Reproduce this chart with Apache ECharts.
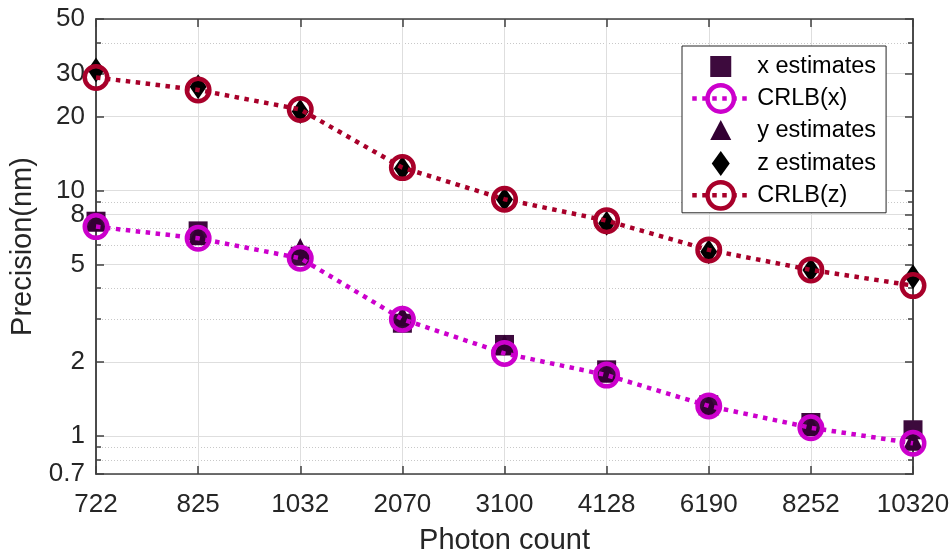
<!DOCTYPE html>
<html>
<head>
<meta charset="utf-8">
<script src="https://cdn.jsdelivr.net/npm/echarts@6/dist/echarts.min.js"></script>
<style>html,body{margin:0;padding:0;background:#fff;}#c{width:951px;height:554px;}</style>
</head>
<body>
<div id="c"></div>
<script>
const categories = ['722', '825', '1032', '2070', '3100', '4128', '6190', '8252', '10320'];
const xEstimates = [7.5, 6.85, 5.4, 2.88, 2.36, 1.86, 1.34, 1.135, 1.06];
const crlbX = [7.13, 6.39, 5.3, 2.99, 2.17, 1.77, 1.325, 1.08, 0.934];
const yEstimates = [7.5, 6.6, 5.8, 3.09, 2.35, 1.82, 1.34, 1.1, 0.96];
const zEstimates = [31, 26.5, 21, 12.3, 9.2, 7.35, 5.63, 4.75, 4.45];
const crlbZ = [28.9, 25.7, 21.4, 12.4, 9.22, 7.54, 5.73, 4.75, 4.1];
const yMajorTicks = [0.7, 1, 2, 5, 8, 10, 20, 30, 50];
const yMinorTicks = [0.8, 0.9, 3, 4, 6, 7, 9, 40];

const FONT = 'Liberation Sans';
const AX = '#404040';
const MAG = '#cc00cc';
const RED = '#a8002a';
const SQ = '#3d0a3d';
const TRI = '#330033';

const chart = echarts.init(document.getElementById('c'), null, {renderer: 'canvas'});
const fmt = v => String(+(+v).toPrecision(3));

const yBase = {
  type: 'log', logBase: 10, min: 0.7, max: 50,
  axisLine: {show: true, lineStyle: {color: AX, width: 1.5}}
};

chart.setOption({
  animation: false,
  backgroundColor: '#fff',
  grid: {left: 96, right: 38, top: 19, bottom: 80, containLabel: false, outerBoundsMode: 'none'},
  xAxis: [{
    type: 'category', data: categories, boundaryGap: false, position: 'bottom',
    axisLine: {show: true, lineStyle: {color: AX, width: 1.5}},
    axisTick: {show: true, inside: true, length: 8, lineStyle: {color: AX, width: 1.5}},
    axisLabel: {fontSize: 26, color: '#262626', fontFamily: FONT, margin: 18},
    splitLine: {show: true, lineStyle: {color: '#dedede', width: 1}},
    name: 'Photon count', nameLocation: 'middle', nameGap: 52,
    nameTextStyle: {fontSize: 29, color: '#262626', fontFamily: FONT}
  }, {
    type: 'category', data: categories, boundaryGap: false, position: 'top',
    axisLine: {show: true, lineStyle: {color: AX, width: 1.5}},
    axisTick: {show: true, inside: true, length: 8, lineStyle: {color: AX, width: 1.5}},
    axisLabel: {show: false}, splitLine: {show: false}
  }],
  yAxis: [Object.assign({}, yBase, {
    position: 'left',
    axisTick: {show: true, inside: true, length: 8, customValues: yMajorTicks, lineStyle: {color: AX, width: 1.5}},
    axisLabel: {show: true, customValues: yMajorTicks, formatter: fmt, fontSize: 26, color: '#262626', fontFamily: FONT, margin: 11},
    splitLine: {show: true, lineStyle: {color: '#dedede', width: 1}},
    name: 'Precision(nm)', nameLocation: 'middle', nameGap: 49, nameRotate: 90,
    nameTextStyle: {fontSize: 29, color: '#262626', fontFamily: FONT}
  }), Object.assign({}, yBase, {
    position: 'left',
    axisTick: {show: true, inside: true, length: 5, customValues: yMinorTicks, lineStyle: {color: AX, width: 1.5}},
    axisLabel: {show: false, customValues: yMinorTicks},
    splitLine: {show: true, lineStyle: {color: '#c8c8c8', width: 1, type: [1, 2]}}
  }), Object.assign({}, yBase, {
    position: 'right',
    axisTick: {show: true, inside: true, length: 8, customValues: yMajorTicks, lineStyle: {color: AX, width: 1.5}},
    axisLabel: {show: false, customValues: yMajorTicks},
    splitLine: {show: false}
  }), Object.assign({}, yBase, {
    position: 'right',
    axisTick: {show: true, inside: true, length: 5, customValues: yMinorTicks, lineStyle: {color: AX, width: 1.5}},
    axisLabel: {show: false, customValues: yMinorTicks},
    splitLine: {show: false}
  })],
  legend: {
    orient: 'vertical', left: 682, top: 46,
    padding: [4, 10, 2, 8],
    itemWidth: 57, itemHeight: 33, itemGap: 0,
    borderColor: '#262626', borderWidth: 1, backgroundColor: '#fff',
    selectedMode: false,
    textStyle: {fontSize: 23.5, color: '#000', fontFamily: FONT, padding: [0, 0, 0, 3]},
    data: [
      {name: 'x estimates', icon: 'path://M0,0M33,33M6,6H27V27H6Z', itemStyle: {opacity: 1}},
      {name: 'CRLB(x)', itemStyle: {borderWidth: 4.5, borderColor: MAG, color: 'rgba(255,255,255,0)'}, lineStyle: {width: 4.5, color: MAG, type: [4.5, 5.5]}},
      {name: 'y estimates', icon: 'path://M0,0M33,33M16.5,6L27,26H6Z', itemStyle: {opacity: 1}},
      {name: 'z estimates', icon: 'path://M0,0M33,33M16.5,4L25.5,16.5L16.5,29L7.5,16.5Z', itemStyle: {opacity: 1}},
      {name: 'CRLB(z)', itemStyle: {borderWidth: 4.5, borderColor: RED, color: 'rgba(255,255,255,0)'}, lineStyle: {width: 4.5, color: RED, type: [4.5, 5.5]}}
    ]
  },
  series: [{
    name: 'x estimates', type: 'scatter', data: xEstimates,
    symbol: 'rect', symbolSize: 19, itemStyle: {color: SQ, opacity: 1}
  }, {
    name: 'CRLB(x)', type: 'line', data: crlbX,
    symbol: 'circle', symbolSize: 22.5, showSymbol: true,
    itemStyle: {color: 'rgba(255,255,255,0)', borderColor: MAG, borderWidth: 4.5},
    lineStyle: {color: MAG, width: 4.5, type: [4.5, 5.5]}
  }, {
    name: 'y estimates', type: 'scatter', data: yEstimates,
    symbol: 'triangle', symbolSize: 21, itemStyle: {color: TRI, opacity: 1}
  }, {
    name: 'z estimates', type: 'scatter', data: zEstimates,
    symbol: 'diamond', symbolSize: [17, 25], itemStyle: {color: '#000', opacity: 1}
  }, {
    name: 'CRLB(z)', type: 'line', data: crlbZ,
    symbol: 'circle', symbolSize: 22.5, showSymbol: true,
    itemStyle: {color: 'rgba(255,255,255,0)', borderColor: RED, borderWidth: 4.5},
    lineStyle: {color: RED, width: 4.5, type: [4.5, 5.5]}
  }]
});
</script>
</body>
</html>
